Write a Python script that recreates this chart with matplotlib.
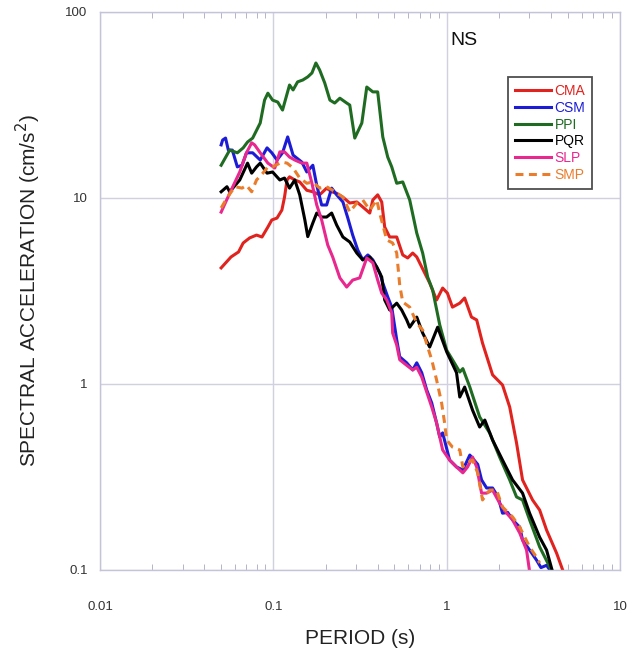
import matplotlib
matplotlib.use("Agg")
import matplotlib.pyplot as plt
from matplotlib.ticker import LogLocator, NullFormatter, FixedLocator, FixedFormatter

plt.rcParams["font.family"] = ["Liberation Sans", "DejaVu Sans"]

# ---------------- data (period in s, spectral acceleration in cm/s^2) -------------
ppi_T = [0.050, 0.056, 0.062, 0.067, 0.071, 0.076, 0.084, 0.089, 0.093, 0.099, 0.106, 0.113,
         0.124, 0.130, 0.138, 0.148, 0.158, 0.167, 0.176, 0.185, 0.198, 0.212, 0.226, 0.242,
         0.265, 0.276, 0.295, 0.324, 0.346, 0.375, 0.400, 0.428, 0.457, 0.482, 0.515, 0.558,
         0.612, 0.672, 0.727, 0.777, 0.830, 0.912, 1.00, 1.08, 1.19, 1.24, 1.36, 1.55, 1.77,
         2.02, 2.31, 2.53, 2.74, 3.01, 3.44, 3.93, 4.08]
ppi_SA = [15.0, 18.1, 17.5, 18.6, 20.0, 21.0, 25.3, 33.6, 36.6, 33.6, 32.8, 29.7,
          40.5, 38.1, 42.1, 43.1, 44.8, 47.0, 53.2, 48.8, 41.5, 33.6, 32.4, 34.4,
          32.4, 31.6, 21.0, 25.3, 39.5, 37.2, 37.2, 21.3, 16.6, 14.7, 12.0, 12.2,
          9.76, 6.48, 5.06, 3.76, 3.20, 2.08, 1.52, 1.35, 1.16, 1.21, 0.963, 0.665, 0.546,
          0.405, 0.305, 0.247, 0.238, 0.186, 0.133, 0.104, 0.098]

pqr_T = [0.050, 0.054, 0.056, 0.064, 0.071, 0.075, 0.080, 0.084, 0.092, 0.099, 0.109, 0.116,
         0.124, 0.133, 0.142, 0.152, 0.158, 0.169, 0.178, 0.190, 0.203, 0.217, 0.232, 0.252,
         0.276, 0.303, 0.328, 0.360, 0.395, 0.422, 0.439, 0.469, 0.515, 0.550, 0.588, 0.612,
         0.672, 0.727, 0.798, 0.887, 1.00, 1.14, 1.19, 1.27, 1.41, 1.55, 1.66, 1.84, 2.10,
         2.40, 2.74, 3.01, 3.44, 3.77, 4.08]
pqr_SA = [10.8, 11.5, 10.8, 12.5, 15.4, 13.6, 14.7, 15.4, 13.6, 13.8, 12.5, 12.8,
          11.3, 12.5, 10.4, 7.62, 6.20, 7.34, 8.30, 7.90, 7.90, 8.30, 7.15, 6.17,
          5.80, 5.06, 4.65, 4.82, 4.26, 3.76, 2.83, 2.50, 2.72, 2.50, 2.21, 2.02,
          2.29, 1.88, 1.58, 2.02, 1.49, 1.15, 0.851, 0.963, 0.724, 0.587, 0.640, 0.500, 0.390,
          0.305, 0.259, 0.202, 0.150, 0.128, 0.098]

cma_T = [0.050, 0.057, 0.063, 0.067, 0.073, 0.080, 0.086, 0.093, 0.098, 0.105, 0.112, 0.116,
         0.120, 0.124, 0.133, 0.142, 0.156, 0.169, 0.185, 0.203, 0.217, 0.232, 0.252, 0.276,
         0.303, 0.328, 0.360, 0.375, 0.400, 0.422, 0.439, 0.469, 0.515, 0.558, 0.596, 0.637,
         0.672, 0.798, 0.875, 0.948, 1.01, 1.08, 1.19, 1.27, 1.39, 1.49, 1.61, 1.84, 2.10,
         2.31, 2.53, 2.74, 3.13, 3.44, 3.77, 4.31, 4.67]
cma_SA = [4.21, 4.82, 5.13, 5.73, 6.10, 6.32, 6.17, 6.98, 7.62, 7.80, 8.61, 10.1,
          12.5, 13.0, 12.5, 12.2, 11.0, 10.8, 10.4, 11.3, 10.8, 10.6, 10.1, 9.40,
          9.52, 8.95, 8.30, 9.76, 10.4, 9.52, 6.98, 6.17, 6.17, 4.94, 4.76, 5.06,
          4.82, 3.49, 2.83, 3.28, 3.08, 2.59, 2.72, 2.90, 2.29, 2.21, 1.66, 1.12, 0.988,
          0.752, 0.482, 0.305, 0.238, 0.210, 0.164, 0.123, 0.100]

csm_T = [0.050, 0.051, 0.053, 0.055, 0.058, 0.062, 0.066, 0.070, 0.076, 0.084, 0.092, 0.098,
         0.105, 0.113, 0.121, 0.130, 0.146, 0.156, 0.169, 0.178, 0.190, 0.203, 0.217, 0.232,
         0.252, 0.269, 0.287, 0.307, 0.328, 0.351, 0.375, 0.411, 0.428, 0.457, 0.482, 0.515,
         0.536, 0.588, 0.637, 0.672, 0.718, 0.767, 0.820, 0.875, 0.912, 0.948, 1.04, 1.14,
         1.24, 1.36, 1.39, 1.51, 1.59, 1.70, 1.84, 1.98, 2.10, 2.25, 2.40, 2.64, 2.74, 3.01,
         3.30, 3.50, 3.77, 4.00]
csm_SA = [19.3, 20.5, 21.0, 18.1, 18.1, 14.7, 15.0, 17.5, 17.5, 16.0, 18.6, 17.5,
          16.0, 17.5, 21.3, 17.0, 15.6, 13.8, 15.0, 11.7, 9.17, 9.17, 11.3, 10.4,
          9.52, 7.80, 6.32, 5.25, 4.65, 4.94, 4.65, 3.95, 3.49, 2.94, 2.59, 1.73,
          1.40, 1.30, 1.19, 1.30, 1.15, 0.929, 0.791, 0.617, 0.519, 0.546, 0.390, 0.358,
          0.345, 0.415, 0.405, 0.370, 0.305, 0.276, 0.276, 0.247, 0.202, 0.204, 0.186, 0.170, 0.145, 0.128,
          0.113, 0.103, 0.106, 0.098]

slp_T = [0.050, 0.056, 0.064, 0.070, 0.075, 0.078, 0.084, 0.093, 0.102, 0.109, 0.116, 0.124,
         0.133, 0.146, 0.156, 0.167, 0.178, 0.190, 0.206, 0.220, 0.242, 0.265, 0.287, 0.315,
         0.346, 0.375, 0.400, 0.422, 0.451, 0.482, 0.488, 0.515, 0.536, 0.588, 0.637, 0.672,
         0.718, 0.767, 0.820, 0.875, 0.948, 1.04, 1.14, 1.24, 1.32, 1.41, 1.49, 1.59, 1.70,
         1.84, 2.02, 2.22, 2.40, 2.64, 2.89, 3.01]
slp_SA = [8.4, 10.6, 13.8, 17.5, 19.8, 19.3, 17.5, 15.4, 14.5, 17.7, 17.7, 16.6,
          16.0, 15.4, 15.4, 12.0, 9.17, 7.62, 5.59, 4.82, 3.72, 3.32, 3.62, 3.72,
          4.76, 4.48, 3.62, 3.08, 2.83, 2.41, 1.88, 1.62, 1.35, 1.26, 1.19, 1.23,
          1.09, 0.906, 0.752, 0.617, 0.442, 0.390, 0.358, 0.333, 0.358, 0.405, 0.358, 0.259, 0.259,
          0.269, 0.229, 0.202, 0.186, 0.158, 0.128, 0.098]

smp_T = [0.050, 0.054, 0.060, 0.066, 0.070, 0.075, 0.080, 0.087, 0.093, 0.099, 0.112, 0.120,
         0.130, 0.142, 0.156, 0.169, 0.185, 0.203, 0.220, 0.252, 0.276, 0.303, 0.328, 0.360,
         0.395, 0.411, 0.451, 0.488, 0.515, 0.536, 0.558, 0.612, 0.672, 0.727, 0.777, 0.820,
         0.875, 0.935, 0.973, 1.00, 1.08, 1.19, 1.24, 1.30, 1.41, 1.51, 1.61, 1.77, 1.94,
         2.10, 2.40, 2.64, 3.01, 3.30, 3.44]
smp_SA = [8.84, 10.0, 11.5, 11.3, 11.7, 10.8, 12.5, 13.6, 14.7, 14.7, 15.6, 15.4,
          14.5, 12.8, 12.0, 12.2, 11.3, 11.5, 11.0, 10.1, 8.41, 9.40, 9.76, 8.61,
          9.76, 8.30, 5.95, 5.73, 5.06, 3.40, 2.76, 2.59, 2.13, 1.95, 1.58, 1.35,
          1.05, 0.791, 0.617, 0.500, 0.458, 0.442, 0.358, 0.376, 0.390, 0.333, 0.238, 0.269, 0.269,
          0.218, 0.193, 0.170, 0.133, 0.117, 0.109]

x_ticks = [0.01, 0.1, 1, 10]
x_tick_labels = ["0.01", "0.1", "1", "10"]
y_ticks = [0.1, 1, 10, 100]
y_tick_labels = ["0.1", "1", "10", "100"]

series = [
    ("CMA", cma_T, cma_SA, "#e0231e", "-"),
    ("CSM", csm_T, csm_SA, "#1c1cd6", "-"),
    ("PPI", ppi_T, ppi_SA, "#1f6b22", "-"),
    ("PQR", pqr_T, pqr_SA, "#000000", "-"),
    ("SLP", slp_T, slp_SA, "#e8278f", "-"),
    ("SMP", smp_T, smp_SA, "#ea7d2c", (0, (2.6, 1.8))),
]

# ---------------- figure ----------------
fig = plt.figure(figsize=(6.36, 6.57), dpi=100)
ax = fig.add_axes([100 / 636, 1 - 570 / 657, 520 / 636, 558 / 657])
ax.set_xscale("log")
ax.set_yscale("log")
ax.set_xlim(0.01, 10)
ax.set_ylim(0.1, 100)

frame_col = "#c4c4d8"
for s in ax.spines.values():
    s.set_color(frame_col)
    s.set_linewidth(1.0)

ax.grid(True, which="major", color="#d0d0e0", linewidth=1.0)
ax.set_axisbelow(True)

ax.xaxis.set_major_locator(FixedLocator(x_ticks))
ax.xaxis.set_major_formatter(FixedFormatter(x_tick_labels))
ax.xaxis.set_minor_locator(LogLocator(base=10, subs=range(2, 10), numticks=20))
ax.xaxis.set_minor_formatter(NullFormatter())
ax.yaxis.set_major_locator(FixedLocator(y_ticks))
ax.yaxis.set_major_formatter(FixedFormatter(y_tick_labels))
ax.yaxis.set_minor_locator(FixedLocator([]))

ax.tick_params(axis="x", which="major", length=0, pad=22, labelsize=9.5, labelcolor="#333333")
ax.tick_params(axis="x", which="minor", direction="in", length=4, color="#a8a8c0",
               top=True, bottom=True)
ax.tick_params(axis="y", which="major", length=0, pad=9, labelsize=9.5, labelcolor="#333333")

lines = []
for name, T, SA, col, ls in series:
    ln, = ax.plot(T, SA, color=col, linewidth=2.2, linestyle=ls, label=name,
                  solid_joinstyle="round")
    lines.append(ln)

ax.set_xlabel("PERIOD (s)", fontsize=15, color="#222222", labelpad=12)
ax.set_ylabel("SPECTRAL ACCELERATION (cm/s$^2$)", fontsize=15, color="#222222", labelpad=16)

ax.text(1.05, 70, "NS", fontsize=14, color="#111111", va="center", ha="left")

leg = ax.legend(handles=lines, loc="upper left", bbox_to_anchor=(0.785, 0.8835),
                borderaxespad=0, fontsize=10, handlelength=2.6, handletextpad=0.25,
                labelspacing=0.2, frameon=True, fancybox=False, borderpad=0.5)
leg.get_frame().set_edgecolor("#222222")
leg.get_frame().set_linewidth(1.3)
for txt, (_, _, _, col, _) in zip(leg.get_texts(), series):
    txt.set_color(col)

fig.savefig("out.png", dpi=100)
